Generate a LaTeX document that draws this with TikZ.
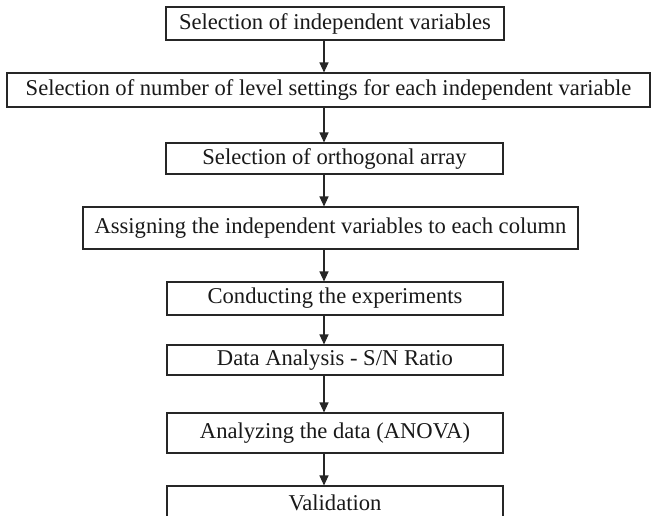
\documentclass[tikz,border=0pt]{standalone}
\usepackage{fontspec}
\setmainfont{Liberation Serif}
\usetikzlibrary{arrows.meta}
\begin{document}
\begin{tikzpicture}[x=1pt,y=-1pt,
  box/.style={draw=black!85,line width=1.1pt,inner sep=0pt,font=\fontsize{22.6}{26}\selectfont,text=black!90},
  arr/.style={draw=black!85,line width=1.1pt,-{Triangle[width=9pt,length=10pt]}}]
\useasboundingbox (0,0) rectangle (655,515);
\clip (0,0) rectangle (655,515);
\fill[white] (0,0) rectangle (655,515);
\coordinate (ax) at (324,0);
\node[box,minimum width=338pt,minimum height=33pt] (b1) at (335,23.5) {Selection of independent variables};
\node[box,minimum width=643pt,minimum height=34pt] (b2) at (328.5,90) {Selection of number of level settings for each independent variable};
\node[box,minimum width=337pt,minimum height=31pt] (b3) at (334.5,158.5) {Selection of orthogonal array};
\node[box,minimum width=495pt,minimum height=42pt] (b4) at (330.5,228) {Assigning the independent variables to each column};
\node[box,minimum width=336pt,minimum height=33pt] (b5) at (335,298.5) {Conducting the experiments};
\node[box,minimum width=336pt,minimum height=30pt] (b6) at (335,360) {Data Analysis - S/N Ratio};
\node[box,minimum width=336pt,minimum height=40pt] (b7) at (335,433) {Analyzing the data (ANOVA)};
\node[box,minimum width=336pt,minimum height=34pt] (b8) at (335,503) {Validation};
\draw[arr] (b1.south -| ax) -- (b2.north -| ax);
\draw[arr] (b2.south -| ax) -- (b3.north -| ax);
\draw[arr] (b3.south -| ax) -- (b4.north -| ax);
\draw[arr] (b4.south -| ax) -- (b5.north -| ax);
\draw[arr] (b5.south -| ax) -- (b6.north -| ax);
\draw[arr] (b6.south -| ax) -- (b7.north -| ax);
\draw[arr] (b7.south -| ax) -- (b8.north -| ax);
\end{tikzpicture}
\end{document}
